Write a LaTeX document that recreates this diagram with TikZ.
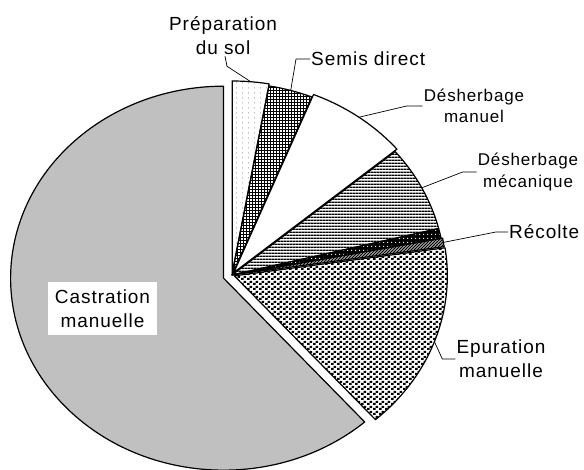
\documentclass[tikz,border=0pt]{standalone}
\usepackage{fontspec}
\setmainfont{Liberation Sans}[LetterSpace=5]
\usepackage{xcolor}
\usetikzlibrary{calc, patterns.meta}

\definecolor{piegray}{RGB}{192,192,192}
\definecolor{dotgray}{RGB}{110,110,110}

% fill patterns of the slices
\tikzdeclarepattern{name=sparsedots, type=uncolored,
  bounding box={(0pt,0pt) and (6pt,5pt)}, tile size={(6pt,5pt)},
  code={\fill (2.6pt,2pt) rectangle (3.4pt,3.2pt);}}
\tikzdeclarepattern{name=whitedots, type=uncolored,
  bounding box={(0pt,0pt) and (3.6pt,3.6pt)}, tile size={(3.6pt,3.6pt)},
  code={\fill (1.8pt,1.8pt) circle (0.75pt);}}
\tikzdeclarepattern{name=finegrid, type=uncolored,
  bounding box={(0pt,0pt) and (3.4pt,3.4pt)}, tile size={(3.4pt,3.4pt)},
  code={\fill (0pt,0pt) rectangle (3.4pt,1pt); \fill (0pt,0pt) rectangle (1pt,3.4pt);}}
\tikzdeclarepattern{name=hstripes, type=uncolored,
  bounding box={(0pt,0pt) and (3.2pt,3.2pt)}, tile size={(3.2pt,3.2pt)},
  code={\fill (0pt,0pt) rectangle (3.2pt,1.6pt);}}
\tikzdeclarepattern{name=dstripes, type=uncolored,
  bounding box={(0pt,0pt) and (3.4pt,3.4pt)}, tile size={(3.4pt,3.4pt)},
  code={\draw[line width=1.3pt] (-1pt,-1pt) -- (4.4pt,4.4pt);
        \draw[line width=1.3pt] (-3pt,0.4pt) -- (0.4pt,3.8pt);
        \draw[line width=1.3pt] (0.4pt,-3pt) -- (3.8pt,0.4pt);}}
\tikzdeclarepattern{name=checker, type=uncolored,
  bounding box={(0pt,0pt) and (5.6pt,5pt)}, tile size={(5.6pt,5pt)},
  code={\fill (0pt,0pt) rectangle (2.8pt,2.5pt); \fill (2.8pt,2.5pt) rectangle (5.6pt,5pt);}}

\begin{document}
\begin{tikzpicture}[x=1pt, y=1pt,
    slice/.style={draw=black, line width=1.2pt, line join=round},
    sl-prep/.style={fill=white, pattern=sparsedots, pattern color=dotgray},
    sl-semis/.style={pattern=finegrid, pattern color=black},
    sl-man/.style={fill=white},
    sl-mec/.style={pattern=hstripes, pattern color=black},
    sl-blk/.style={preaction={fill=black}, pattern=whitedots, pattern color=white},
    sl-rec/.style={pattern=dstripes, pattern color=black},
    sl-epu/.style={pattern=checker, pattern color=black},
    sl-cas/.style={fill=piegray},
    lbl/.style={font=\fontsize{19}{24}\selectfont, align=center, inner sep=1pt},
    smlbl/.style={font=\fontsize{17}{21.5}\selectfont, align=center, inner sep=1pt},
    leader/.style={line width=0.7pt}]
  \useasboundingbox (0,0) rectangle (584,470);
  \coordinate (O) at (232,195);

  % Slices: start/end/explode/style/name
  \foreach \a/\b/\d/\s/\n in {90/80/2/sl-prep/prep, 80/68/0/sl-semis/semis,
      68/40/3/sl-man/man, 40/14/0/sl-mec/mec, 14/11/0/sl-blk/blk,
      11/8.4/1.5/sl-rec/rec, 8.4/-48.5/2.5/sl-epu/epu, -48.5/-270/9/sl-cas/cas}{
    \path[slice, \s] ($(O)+({(\a+\b)/2}:\d)$) -- ++(\a:213 and 192)
      arc[start angle=\a, end angle=\b, x radius=213, y radius=192] -- cycle;
    \coordinate (pt-\n) at ($(O)+({(\a+\b)/2}:\d)+({(\a+\b)/2}:213 and 192)$);
  }

  % Labels
  \node[lbl] (lbl-prep) at (223,434) {Préparation\\du sol};
  \node[lbl, anchor=west] (lbl-semis) at (310,411) {Semis direct};
  \node[smlbl] (lbl-man) at (474,364) {Désherbage\\manuel};
  \node[smlbl] (lbl-mec) at (528,298) {Désherbage\\mécanique};
  \node[lbl, anchor=west] (lbl-rec) at (508,238) {Récolte};
  \node[lbl] (lbl-epu) at (501,111) {Epuration\\manuelle};
  \node[lbl, fill=white, minimum width=109pt, minimum height=53pt] (lbl-cas) at (102.5,161.5) {Castration\\manuelle};

  % Leader lines
  \draw[leader] (lbl-prep.south) ++(2,0) -- ++(2,-10) -- (pt-prep);
  \draw[leader] (lbl-semis.west) -- ++(-14,0) -- (pt-semis);
  \draw[leader] (lbl-man.west) -- ++(-16,0) -- (pt-man);
  \draw[leader] (lbl-mec.west) -- ++(-14,0) -- (pt-mec);
  \draw[leader] (lbl-rec.west) -- ++(-12,0) -- (pt-rec);
  \draw[leader] (lbl-epu.west) -- ++(-13,0) -- (pt-epu);
\end{tikzpicture}
\end{document}
